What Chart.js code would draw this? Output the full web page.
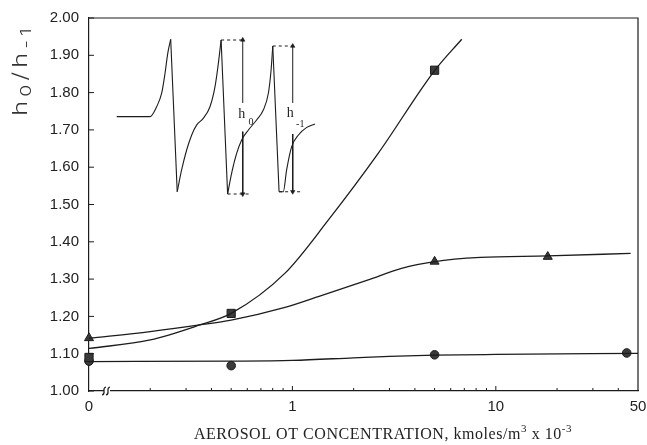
<!DOCTYPE html>
<html><head><meta charset="utf-8">
<script src="https://cdn.jsdelivr.net/npm/chart.js@4/dist/chart.umd.min.js"></script>
<style>html,body{margin:0;padding:0;background:#fff;}#wrap{width:647px;height:445px;}</style>
</head><body><div id="wrap"><canvas id="c" width="647" height="445"></canvas></div>
<script>
// ---- tick labels ----
const xTickValues = [0.1, 1, 10, 50];
const xTickLabels = ['0', '1', '10', '50'];
const xMinorTicks = [0.2,0.3,0.4,0.5,0.6,0.7,0.8,0.9,2,3,4,5,6,7,8,9,20,30,40];
const yTickValues = [1.0,1.1,1.2,1.3,1.4,1.5,1.6,1.7,1.8,1.9,2.0];

// ---- measured points ----
const squareX = [0.1, 0.5, 5];
const squareY = [1.09, 1.208, 1.86];
const triX = [0.1, 5, 18];
const triY = [1.142, 1.347, 1.36];
const circX = [0.1, 0.5, 5, 44];
const circY = [1.08, 1.068, 1.097, 1.102];

// ---- fitted curves ----
const squareCurveX = [0.1, 0.2, 0.35, 0.5, 0.92, 1.5, 2.64, 5, 6.8];
const squareCurveY = [1.114, 1.137, 1.177, 1.208, 1.316, 1.458, 1.637, 1.859, 1.943];
const triCurveX = [0.1, 0.2, 0.35, 0.5, 0.92, 1.34, 2.36, 3.44, 5, 8.4, 18, 46];
const triCurveY = [1.141, 1.159, 1.177, 1.19, 1.224, 1.253, 1.298, 1.329, 1.347, 1.358, 1.362, 1.369];
const circCurveX = [0.1, 0.5, 1, 2, 3, 5, 10, 50];
const circCurveY = [1.079, 1.080, 1.082, 1.089, 1.093, 1.096, 1.098, 1.101];

// ---- inset spectrum (inset units 0..100) ----
const insetU = [3.2,19.0,22.2,24.6,26.2,27.5,28.9,32.0,34.1,36.5,38.9,41.3,44.4,47.6,50.0,51.6,52.9,56.0,57.9,60.3,62.7,65.9,69.8,73.0,75.4,76.7,77.5,80.5,82.5,84.1,86.5,89.7,93.7,97.6];
const insetV = [50.5,50.5,56.5,64.7,76.8,88.9,97.4,5.0,18.2,30.3,39.4,45.5,49.5,56.5,68.7,82.8,97.0,3.6,16.2,28.3,36.4,42.4,48.5,54.5,64.7,78.8,93.3,5.0,5.0,18.2,32.3,39.4,44.0,46.1];
const insetBreaks = [0, 6, 7, 16, 17, 26, 27, 33];   // peaks / troughs where the trace turns sharply
const h0TopU = [52.9, 64.3], h0TopV = [97.0, 97.0];
const h0BotU = [56.0, 66.7], h0BotV = [3.6, 3.6];
const h1TopU = [77.5, 88.1], h1TopV = [93.3, 93.3];
const h1BotU = [80.5, 90.5], h1BotV = [5.0, 5.0];
const h0ArrowU = 63.2, h0ArrowUpV = [58.8, 97.0], h0ArrowDnV = [41.4, 3.6];
const h1ArrowU = 87.0, h1ArrowUpV = [58.8, 93.3], h1ArrowDnV = [40.0, 5.0];

const zip = (xs, ys) => xs.map((x, i) => ({x, y: ys[i]}));
const INK = '#1c1c1c';

const curve = (xs, ys) => ({type:'line', data: zip(xs, ys), borderColor: INK, borderWidth: 1.3,
  pointRadius: 0, fill: false, cubicInterpolationMode: 'monotone', xAxisID:'x', yAxisID:'y'});
const marks = (xs, ys, style, r) => ({type:'line', data: zip(xs, ys), showLine:false, pointStyle: style, clip: false,
  pointRadius: r, pointBackgroundColor:'#3a3a3a', pointBorderColor: INK, pointBorderWidth: 1, xAxisID:'x', yAxisID:'y'});
const iline = (us, vs, dash) => ({type:'line', data: zip(us, vs), borderColor: INK, borderWidth: 1.1,
  borderDash: dash || [], pointRadius: 0, cubicInterpolationMode: 'monotone', clip: false, xAxisID:'xi', yAxisID:'yi'});
const arrow = (u, vs, rot) => ({type:'line', data: vs.map(v => ({x:u, y:v})), borderColor: INK, borderWidth: 1,
  pointRadius: [0, 2.6], pointStyle:'triangle', pointRotation: rot, pointBackgroundColor: INK, pointBorderColor: INK,
  pointBorderWidth: 0.5, xAxisID:'xi', yAxisID:'yi'});

const traceSets = [];
for (let k = 0; k < insetBreaks.length - 1; k++) {
  const a = insetBreaks[k], b = insetBreaks[k + 1];
  traceSets.push(iline(insetU.slice(a, b + 1), insetV.slice(a, b + 1)));
}

const framePlugin = {
  id: 'frame',
  afterDraw(chart) {
    const ctx = chart.ctx, a = chart.chartArea, xs = chart.scales.x, ys = chart.scales.y;
    const xi = chart.scales.xi, yi = chart.scales.yi;
    ctx.save();
    ctx.strokeStyle = INK; ctx.lineWidth = 1.2;
    ctx.beginPath();
    ctx.moveTo(a.left, a.top); ctx.lineTo(a.right, a.top); ctx.lineTo(a.right, a.bottom);
    ctx.stroke();
    // inner y ticks
    ctx.lineWidth = 1;
    yTickValues.forEach(v => { const p = ys.getPixelForValue(v); ctx.beginPath(); ctx.moveTo(a.left, p); ctx.lineTo(a.left + 5, p); ctx.stroke(); });
    // inner x ticks
    xMinorTicks.forEach(v => { const p = xs.getPixelForValue(v); ctx.beginPath(); ctx.moveTo(p, a.bottom); ctx.lineTo(p, a.bottom - 3); ctx.stroke(); });
    [1, 10].forEach(v => { const p = xs.getPixelForValue(v); ctx.beginPath(); ctx.moveTo(p, a.bottom); ctx.lineTo(p, a.bottom - 5); ctx.stroke(); });
    // axis break
    const bx = a.left + 16, by = a.bottom;
    ctx.fillStyle = '#fff'; ctx.fillRect(bx - 1, by - 2, 6, 4);
    ctx.lineWidth = 1.2;
    [bx - 1, bx + 3].forEach(x0 => {
      ctx.beginPath();
      ctx.moveTo(x0 - 2, by + 4);
      ctx.bezierCurveTo(x0 + 3, by + 3, x0 - 3, by - 3, x0 + 2, by - 4);
      ctx.stroke();
    });
    // x title
    ctx.fillStyle = '#222';
    ctx.letterSpacing = '0.55px';
    const main = '16px "Liberation Serif", "Times New Roman", serif', sup = '11px "Liberation Serif", serif';
    const parts = [['AEROSOL OT CONCENTRATION, kmoles/m', main, 0], ['3', sup, -7], [' x 10', main, 0], ['-3', sup, -7]];
    let w = 0; parts.forEach(p => { ctx.font = p[1]; w += ctx.measureText(p[0]).width; });
    let x = 383 - w / 2; ctx.textBaseline = 'alphabetic'; ctx.textAlign = 'left';
    parts.forEach(p => { ctx.font = p[1]; ctx.fillText(p[0], x, 439 + p[2]); x += ctx.measureText(p[0]).width; });
    ctx.letterSpacing = '0px';
    // y title (rotated, wide thin glyphs as in the original)
    ctx.save();
    ctx.fillStyle = '#333';
    ctx.translate(27, 116); ctx.rotate(-Math.PI / 2); ctx.scale(1.3, 1);
    ctx.letterSpacing = '3px';
    const yf = '300 20px Inter, "Open Sans", "Liberation Sans", sans-serif', yfs = '300 15px Inter, "Open Sans", "Liberation Sans", sans-serif';
    const yparts = [['h', yf, 0], ['0', yfs, 4], ['/h', yf, 0], ['-1', yfs, 4]];
    let tx = 0; yparts.forEach(p => { ctx.font = p[1]; ctx.fillText(p[0], tx, p[2]); tx += ctx.measureText(p[0]).width; });
    ctx.letterSpacing = '0px';
    ctx.restore();
    // inset labels
    const lab = (txt, sub, u, v, su, sv) => {
      ctx.font = '14px "Liberation Serif", serif'; ctx.fillText(txt, xi.getPixelForValue(u), yi.getPixelForValue(v));
      ctx.font = '10px "Liberation Serif", serif'; ctx.fillText(sub, xi.getPixelForValue(su), yi.getPixelForValue(sv));
    };
    lab('h', '0', 61.1, 49.5, 65.9, 45.2);
    lab('h', '-1', 84.1, 50.3, 88.6, 44.2);
    ctx.restore();
  }
};

new Chart(document.getElementById('c'), {
  data: { datasets: [
    curve(squareCurveX, squareCurveY),
    curve(triCurveX, triCurveY),
    curve(circCurveX, circCurveY),
    marks(squareX, squareY, 'rect', 5.8),
    marks(triX, triY, 'triangle', 5.2),
    marks(circX, circY, 'circle', 4.3),
    ...traceSets,
    iline(h0TopU, h0TopV, [3, 3]), iline(h0BotU, h0BotV, [3, 3]),
    iline(h1TopU, h1TopV, [3, 3]), iline(h1BotU, h1BotV, [3, 3]),
    arrow(h0ArrowU, h0ArrowUpV, 0), arrow(h0ArrowU, h0ArrowDnV, 180),
    arrow(h1ArrowU, h1ArrowUpV, 0), arrow(h1ArrowU, h1ArrowDnV, 180)
  ]},
  options: {
    responsive: false, animation: false, devicePixelRatio: 1,
    layout: { padding: { top: 18, right: 9, left: 0, bottom: 0 } },
    plugins: { legend: { display: false }, tooltip: { enabled: false }, title: { display: false } },
    scales: {
      x: { type: 'logarithmic', min: 0.1, max: 50, position: 'bottom',
        afterBuildTicks: s => { s.ticks = xTickValues.map(v => ({ value: v })); },
        afterFit: s => { s.height = 54; s.paddingLeft = 0; s.paddingRight = 0; },
        ticks: { autoSkip: false, maxRotation: 0, padding: 7, color: '#222',
          font: { family: '"Liberation Sans", Arial, sans-serif', size: 15 },
          callback: (v, i) => xTickLabels[i] },
        grid: { display: false, drawTicks: false },
        border: { display: true, color: INK, width: 1.2 } },
      y: { type: 'linear', min: 1, max: 2, position: 'left',
        afterBuildTicks: s => { s.ticks = yTickValues.map(v => ({ value: v })); },
        afterFit: s => { s.width = 89; s.paddingTop = 0; s.paddingBottom = 0; },
        ticks: { padding: 10, color: '#222',
          font: { family: '"Liberation Sans", Arial, sans-serif', size: 15 },
          callback: v => Number(v).toFixed(2) },
        grid: { display: false, drawTicks: false },
        border: { display: true, color: INK, width: 1.2 } },
      xi: { type: 'linear', display: false, min: -10, max: 251.4, position: 'bottom' },
      yi: { type: 'linear', display: false, min: -115.76, max: 110.30, position: 'left' }
    }
  },
  plugins: [framePlugin]
});
</script></body></html>
